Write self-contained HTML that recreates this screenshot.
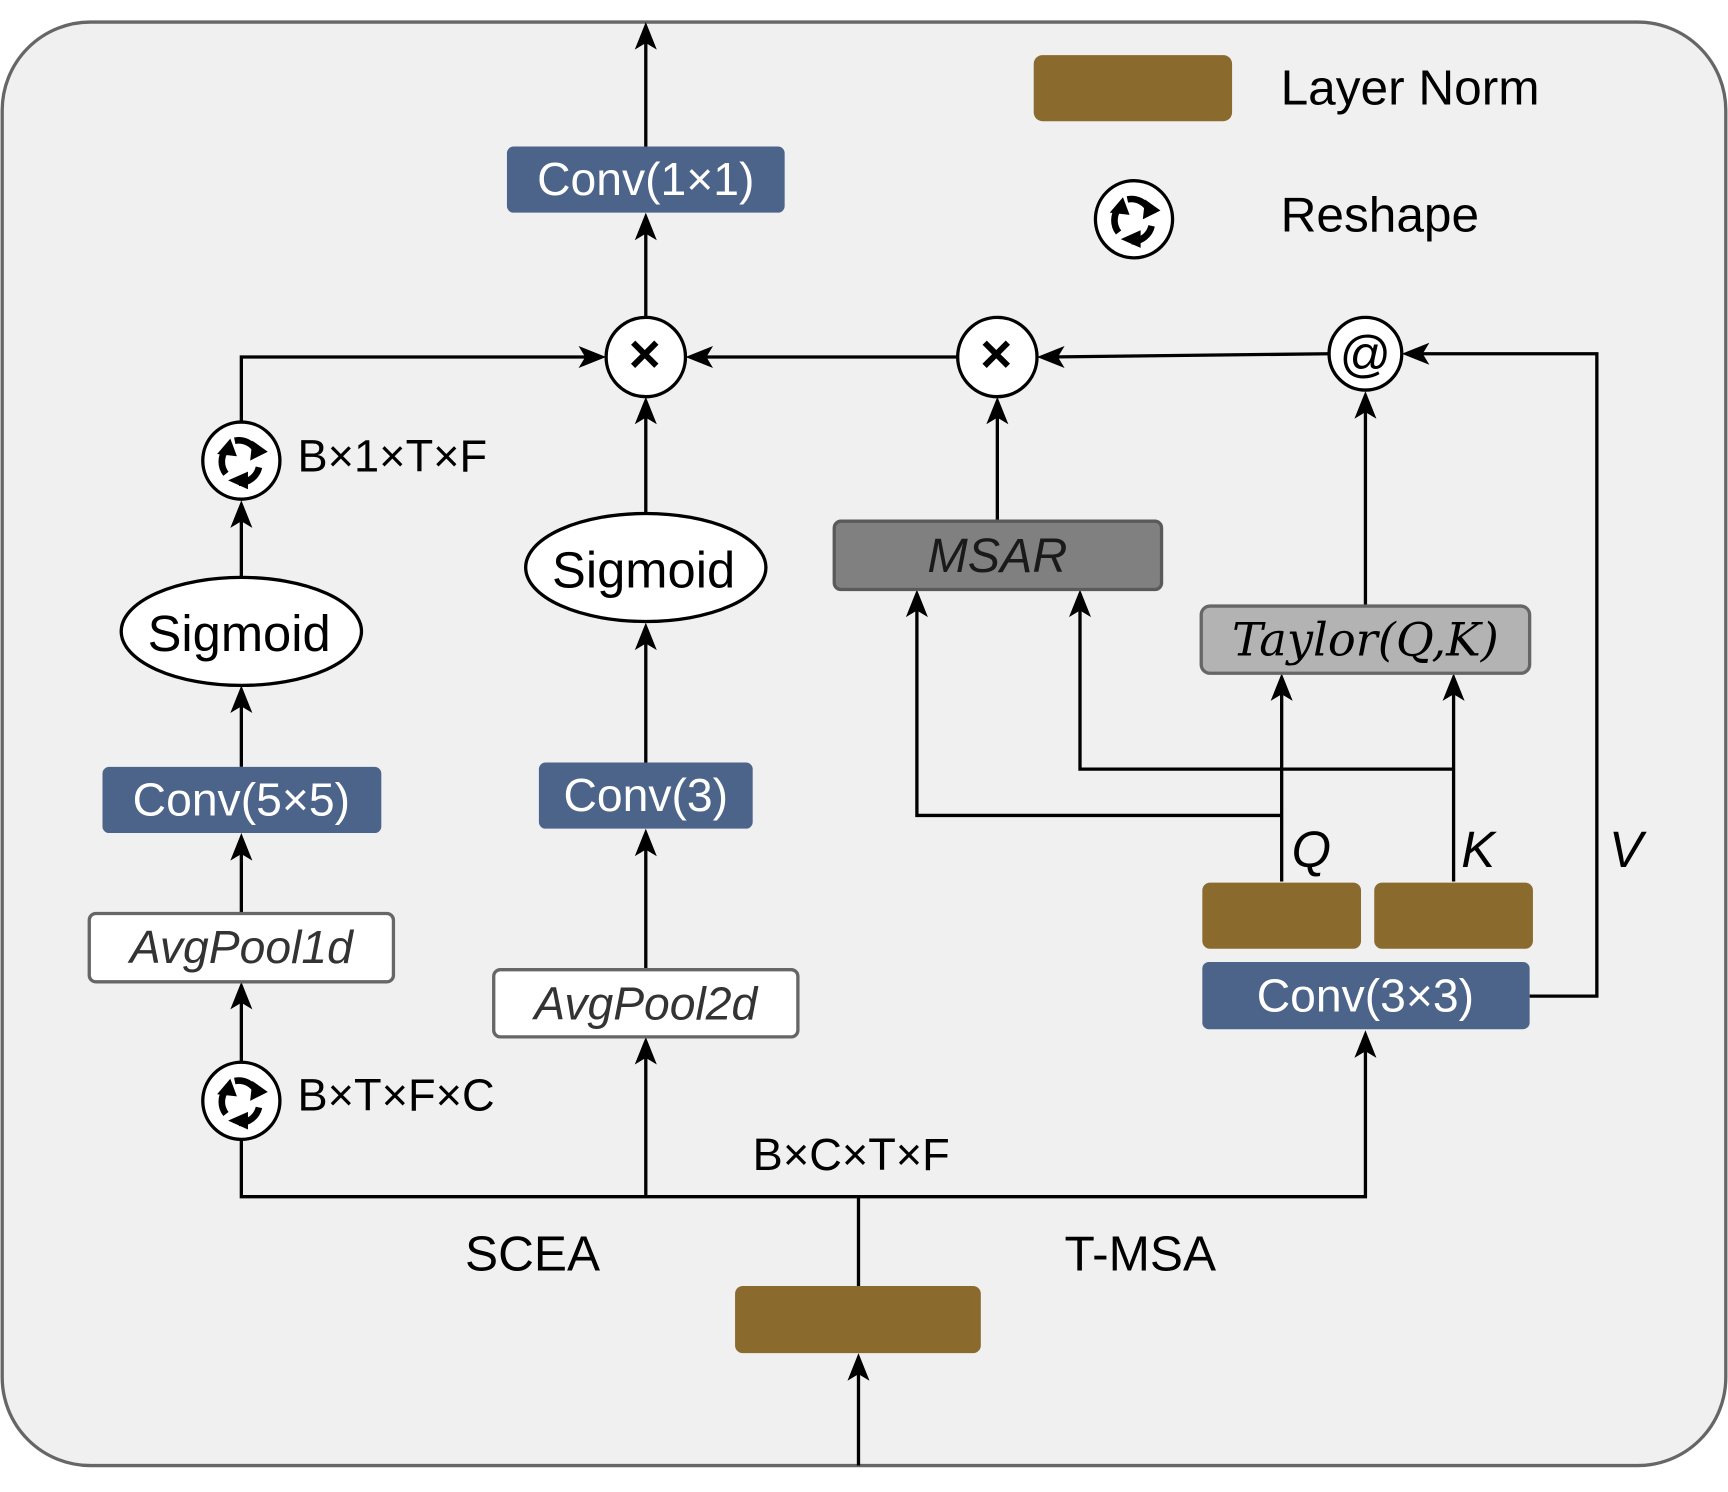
<!DOCTYPE html>
<html><head><meta charset="utf-8"><style>
html,body{margin:0;padding:0;background:#fff;}
svg{display:block;}
text{font-family:"Liberation Sans",sans-serif;}
</style></head><body>
<svg width="1728" height="1492" viewBox="0 0 1568 1354" preserveAspectRatio="none" xmlns="http://www.w3.org/2000/svg">
<defs>
<g id="rs">
<circle cx="0" cy="0" r="35" fill="#fff" stroke="#000" stroke-width="3"/>
<g fill="none" stroke="#000" stroke-width="6">
<path d="M-14,12 A18,18 0 0 1 -14,-10"/>
<path d="M-6,-18 A18,18 0 0 1 14,-8"/>
<path d="M16,6 A18,18 0 0 1 -2,20"/>
</g>
<g fill="#000">
<polygon points="-22,-6 -10,-20 -4,-4"/>
<polygon points="10,-18 24,-8 8,0"/>
<polygon points="6,10 6,26 -12,18"/>
</g>
</g>
</defs>
<rect x="2" y="20" width="1564" height="1310" rx="80" fill="#f0f0f0" stroke="#666" stroke-width="3"/>
<rect x="938" y="50" width="180" height="60" rx="8" fill="#8b6a2d"/>
<text x="1162" y="95" font-size="45">Layer Norm</text>
<use href="#rs" x="1029" y="199"/>
<text x="1162" y="210" font-size="45">Reshape</text>

<g stroke="#000" stroke-width="3" fill="none">
<line x1="586" y1="133" x2="586" y2="30"/>
<line x1="586" y1="288" x2="586" y2="203"/>
<line x1="869" y1="324" x2="632" y2="324"/>
<line x1="1206" y1="321" x2="951" y2="324"/>
<polyline points="1388,904 1449,904 1449,321 1282,321"/>
<polyline points="219,382 219,324 540,324"/>
<line x1="219" y1="524" x2="219" y2="464"/>
<line x1="219" y1="696" x2="219" y2="632"/>
<line x1="219" y1="829" x2="219" y2="766"/>
<line x1="219" y1="963" x2="219" y2="901"/>
<polyline points="219,1035 219,1086 1239,1086 1239,945"/>
<line x1="586" y1="1086" x2="586" y2="951"/>
<line x1="586" y1="880" x2="586" y2="762"/>
<line x1="586" y1="692" x2="586" y2="575"/>
<line x1="586" y1="466" x2="586" y2="370"/>
<line x1="905" y1="473" x2="905" y2="370"/>
<line x1="1239" y1="550" x2="1239" y2="365"/>
<line x1="1163" y1="800" x2="1163" y2="621"/>
<line x1="1319" y1="800" x2="1319" y2="621"/>
<polyline points="1163,740 832,740 832,545"/>
<polyline points="1319,698 980,698 980,545"/>
<line x1="779" y1="1086" x2="779" y2="1167"/>
<line x1="779" y1="1330" x2="779" y2="1238"/>
</g>
<g fill="#000">
<polygon points="586,20 576,45 586,39 596,45"/>
<polygon points="586,193 576,218 586,212 596,218"/>
<polygon points="622,324 647,314 641,324 647,334"/>
<polygon points="941,324 966,314 960,324 966,334"/>
<polygon points="1272,321 1297,311 1291,321 1297,331"/>
<polygon points="550,324 525,314 531,324 525,334"/>
<polygon points="219,454 209,479 219,473 229,479"/>
<polygon points="219,622 209,647 219,641 229,647"/>
<polygon points="219,756 209,781 219,775 229,781"/>
<polygon points="219,891 209,916 219,910 229,916"/>
<polygon points="1239,935 1229,960 1239,954 1249,960"/>
<polygon points="586,941 576,966 586,960 596,966"/>
<polygon points="586,752 576,777 586,771 596,777"/>
<polygon points="586,565 576,590 586,584 596,590"/>
<polygon points="586,360 576,385 586,379 596,385"/>
<polygon points="905,360 895,385 905,379 915,385"/>
<polygon points="1239,355 1229,380 1239,374 1249,380"/>
<polygon points="1163,611 1153,636 1163,630 1173,636"/>
<polygon points="1319,611 1309,636 1319,630 1329,636"/>
<polygon points="832,535 822,560 832,554 842,560"/>
<polygon points="980,535 970,560 980,554 990,560"/>
<polygon points="779,1228 769,1253 779,1247 789,1253"/>
</g>
<g font-size="42" fill="#fff" text-anchor="middle">
<rect x="460" y="133" width="252" height="60" rx="6" fill="#4c6489"/>
<text x="586" y="177" fill="#fff">Conv(1×1)</text>
<rect x="93" y="696" width="253" height="60" rx="6" fill="#4c6489"/>
<text x="219" y="740" fill="#fff">Conv(5×5)</text>
<rect x="489" y="692" width="194" height="60" rx="6" fill="#4c6489"/>
<text x="586" y="736" fill="#fff">Conv(3)</text>
<rect x="1091" y="873" width="297" height="61" rx="6" fill="#4c6489"/>
<text x="1239" y="918" fill="#fff">Conv(3×3)</text>
</g>
<rect x="81" y="829" width="276" height="62" rx="6" fill="#fff" stroke="#666" stroke-width="3"/>
<text x="219" y="874" font-size="42" font-style="italic" fill="#333" text-anchor="middle">AvgPool1d</text>
<rect x="448" y="880" width="276" height="61" rx="6" fill="#fff" stroke="#666" stroke-width="3"/>
<text x="586" y="925" font-size="42" font-style="italic" fill="#333" text-anchor="middle">AvgPool2d</text>
<rect x="757" y="473" width="297" height="62" rx="6" fill="#808080" stroke="#5a5a5a" stroke-width="3"/>
<text x="905" y="519" font-size="44" font-style="italic" fill="#1a1a1a" text-anchor="middle">MSAR</text>
<rect x="1090" y="550" width="298" height="61" rx="8" fill="#b3b3b3" stroke="#666" stroke-width="3"/>
<text x="1239" y="595" font-size="42" font-style="italic" fill="#000" text-anchor="middle" style="font-family:'DejaVu Serif','Liberation Serif',serif">Taylor(Q,K)</text>
<ellipse cx="219" cy="573" rx="109" ry="49" fill="#fff" stroke="#000" stroke-width="3"/>
<text x="217" y="591" font-size="46" text-anchor="middle">Sigmoid</text>
<ellipse cx="586" cy="515" rx="109" ry="49" fill="#fff" stroke="#000" stroke-width="3"/>
<text x="584" y="533" font-size="46" text-anchor="middle">Sigmoid</text>
<circle cx="586" cy="324" r="36" fill="#fff" stroke="#000" stroke-width="3"/>
<text x="585" y="338" font-size="50" font-weight="bold" text-anchor="middle">×</text>
<circle cx="905" cy="324" r="36" fill="#fff" stroke="#000" stroke-width="3"/>
<text x="904" y="338" font-size="50" font-weight="bold" text-anchor="middle">×</text>
<circle cx="1239" cy="321" r="33" fill="#fff" stroke="#000" stroke-width="3"/>
<text x="1239" y="337" font-size="46" text-anchor="middle">@</text>
<use href="#rs" x="219" y="418"/>
<use href="#rs" x="219" y="999"/>
<text x="270" y="428" font-size="41">B×1×T×F</text>
<text x="270" y="1008" font-size="41">B×T×F×C</text>
<text x="683" y="1062" font-size="41">B×C×T×F</text>
<text x="422" y="1153" font-size="45">SCEA</text>
<text x="966" y="1153" font-size="45">T-MSA</text>
<text x="1172" y="787" font-size="46" font-style="italic">Q</text>
<text x="1326" y="787" font-size="46" font-style="italic">K</text>
<text x="1460" y="787" font-size="46" font-style="italic">V</text>
<rect x="1091" y="801" width="144" height="60" rx="7" fill="#8b6a2d"/>
<rect x="1247" y="801" width="144" height="60" rx="7" fill="#8b6a2d"/>
<rect x="667" y="1167" width="223" height="61" rx="7" fill="#8b6a2d"/>
</svg>
</body></html>
